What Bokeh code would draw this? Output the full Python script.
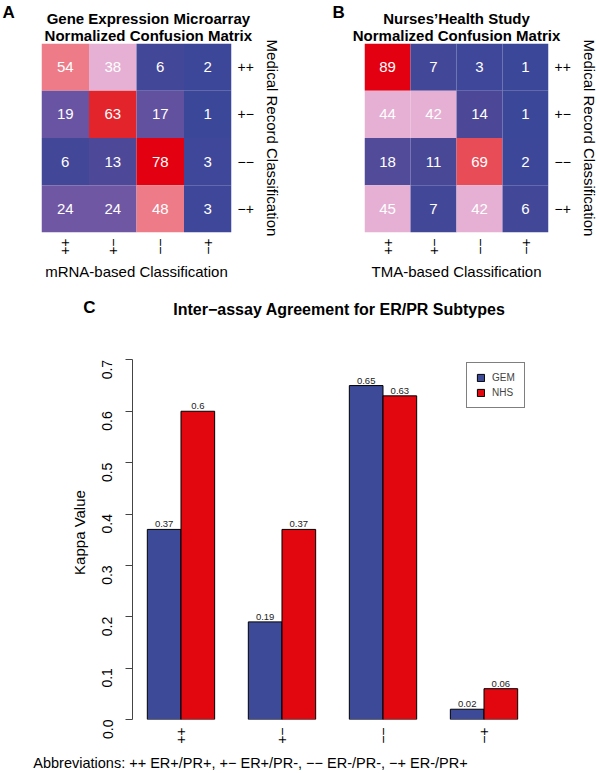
import numpy as np
from math import pi
from bokeh.plotting import figure
from bokeh.models import (FactorRange, Range1d, ColumnDataSource, LinearColorMapper,
                          Legend, LegendItem, FixedTicker, NumeralTickFormatter)
from bokeh.transform import dodge
from bokeh.layouts import column, row
from bokeh.embed import file_html
from bokeh.resources import INLINE
from bokeh.core.properties import value

# ---------------- data ----------------
classes = ["++", "+\u2212", "\u2212\u2212", "\u2212+"]
gem_matrix = [[54, 38, 6, 2],
              [19, 63, 17, 1],
              [6, 13, 78, 3],
              [24, 24, 48, 3]]
nhs_matrix = [[89, 7, 3, 1],
              [44, 42, 14, 1],
              [18, 11, 69, 2],
              [45, 7, 42, 6]]
subtypes = ["++", "+\u2212", "\u2212\u2212", "\u2212+"]
gem_kappa = [0.37, 0.19, 0.65, 0.02]
nhs_kappa = [0.6, 0.37, 0.63, 0.06]
y_ticks = [0.0, 0.1, 0.2, 0.3, 0.4, 0.5, 0.6, 0.7]

FONT = "Liberation Sans"

# ---------------- colour palette (blue -> purple -> pink -> red) ----------------
anchors = [(0.0, "#3A4799"), (0.16, "#4C4897"), (0.205, "#524B99"), (0.22, "#6753A2"),
           (0.31, "#7057A4"), (0.45, "#E5B0D3"), (0.52, "#E5B0D3"), (0.60, "#EE7B88"),
           (0.70, "#EE7B88"), (0.78, "#E84A55"), (0.81, "#E32228"), (1.0, "#E30010")]


def build_palette(n=256):
    fs = [a[0] for a in anchors]
    rgb = [tuple(int(a[1][i:i + 2], 16) for i in (1, 3, 5)) for a in anchors]
    t = np.linspace(0, 1, n)
    chans = [np.interp(t, fs, [c[k] for c in rgb]) for k in range(3)]
    return ["#%02X%02X%02X" % (int(round(r)), int(round(g)), int(round(b)))
            for r, g, b in zip(*chans)]


PALETTE = build_palette()


def add_text(p, x, y, txt, size, bold=False, align="left"):
    """Free text drawn as an unclipped (overlay-level) text glyph."""
    src = ColumnDataSource(dict(x=[x], y=[y], t=[txt]))
    p.text(x="x", y="y", text="t", source=src, level="overlay",
           text_font=value(FONT), text_font_size=size,
           text_font_style="bold" if bold else "normal",
           text_align=align, text_baseline="middle", text_color="black")


def make_heatmap(matrix, title1, title2, xlabel, letter, border_left, border_right,
                 letter_x, title_x):
    cols, rows, vals, labels = [], [], [], []
    for i, r in enumerate(classes):
        for j, c in enumerate(classes):
            rows.append(r)
            cols.append(c)
            vals.append(matrix[i][j])
            labels.append(str(matrix[i][j]))
    src = ColumnDataSource(dict(col=cols, row=rows, v=vals, label=labels))
    mapper = LinearColorMapper(palette=PALETTE, low=0, high=max(vals))

    p = figure(width=300, height=290,
               x_range=FactorRange(factors=classes),
               y_range=FactorRange(factors=list(reversed(classes))),
               y_axis_location="right", output_backend="svg", toolbar_location=None,
               min_border_left=border_left, min_border_right=border_right,
               min_border_top=43, min_border_bottom=58)
    p.rect(x="col", y="row", width=1, height=1, source=src,
           fill_color={"field": "v", "transform": mapper}, line_color=None)
    p.text(x="col", y="row", text="label", source=src, text_color="white",
           text_font=value(FONT), text_font_size="15px",
           text_align="center", text_baseline="middle")

    p.grid.visible = False
    p.outline_line_color = None
    for ax in (p.xaxis[0], p.yaxis[0]):
        ax.axis_line_color = None
        ax.major_tick_out = 0
        ax.major_tick_in = 0
        ax.minor_tick_out = 0
        ax.major_label_text_font = FONT
        ax.major_label_text_font_size = "14px"
        ax.major_label_text_color = "black"
        ax.axis_label_text_font = FONT
        ax.axis_label_text_font_size = "15px"
        ax.axis_label_text_font_style = "normal"
        ax.axis_label_text_color = "black"
    p.xaxis[0].major_label_orientation = pi / 2
    p.xaxis[0].major_label_standoff = 6
    p.xaxis[0].axis_label = xlabel
    p.xaxis[0].axis_label_standoff = 5
    p.yaxis[0].major_label_standoff = 6
    p.yaxis[0].axis_label = "Medical Record Classification"
    p.yaxis[0].axis_label_standoff = 7

    add_text(p, title_x, 4.53, title1, "15px", bold=True, align="center")
    add_text(p, title_x, 4.16, title2, "15px", bold=True, align="center")
    add_text(p, letter_x, 4.66, letter, "17px", bold=True)
    return p


pA = make_heatmap(gem_matrix, "Gene Expression Microarray", "Normalized Confusion Matrix",
                  "mRNA-based Classification", "A", 41, 69, -0.82, 2.25)
pB = make_heatmap(nhs_matrix, "Nurses\u2019Health Study", "Normalized Confusion Matrix",
                  "TMA-based Classification", "B", 64, 46, -0.695, 2.0)

# ---------------- bar chart ----------------
bsrc = ColumnDataSource(dict(cat=subtypes, gem=gem_kappa, nhs=nhs_kappa,
                             gem_label=[str(v) for v in gem_kappa],
                             nhs_label=[str(v) for v in nhs_kappa]))

pC = figure(width=600, height=482,
            x_range=FactorRange(factors=subtypes, factor_padding=0.5, range_padding=0.22,
                                range_padding_units="absolute"),
            y_range=Range1d(0, 0.728),
            output_backend="svg", toolbar_location=None,
            min_border_left=132, min_border_right=68, min_border_top=55, min_border_bottom=53)
pC.grid.visible = False
pC.outline_line_color = None

r_gem = pC.vbar(x=dodge("cat", -0.25, range=pC.x_range), top="gem", width=0.5, bottom=0,
                source=bsrc, fill_color="#3C4A98", line_color="black", line_width=1)
r_nhs = pC.vbar(x=dodge("cat", 0.25, range=pC.x_range), top="nhs", width=0.5, bottom=0,
                source=bsrc, fill_color="#E2060E", line_color="black", line_width=1)
for xo, col in ((-0.25, "gem"), (0.25, "nhs")):
    pC.text(x=dodge("cat", xo, range=pC.x_range), y=col, text=col + "_label", source=bsrc,
            text_align="center", text_baseline="bottom", y_offset=-2,
            text_font=value(FONT), text_font_size="9.5px", text_color="#222222")

xa = pC.xaxis[0]
xa.axis_line_color = None
xa.major_tick_out = 0
xa.major_tick_in = 0
xa.major_label_orientation = pi / 2
xa.major_label_standoff = 8
xa.major_label_text_font = FONT
xa.major_label_text_font_size = "14px"
xa.major_label_text_color = "black"

ya = pC.yaxis[0]
ya.ticker = FixedTicker(ticks=y_ticks)
ya.formatter = NumeralTickFormatter(format="0.0")
ya.bounds = (0, 0.7)
ya.minor_tick_out = 0
ya.minor_tick_in = 0
ya.major_tick_in = 0
ya.major_tick_out = 7
ya.axis_line_color = "#444444"
ya.major_tick_line_color = "#444444"
ya.major_label_orientation = pi / 2
ya.major_label_standoff = 18
ya.major_label_text_font = FONT
ya.major_label_text_font_size = "14px"
ya.major_label_text_color = "black"
ya.axis_label = "Kappa Value"
ya.axis_label_standoff = 7
ya.axis_label_text_font = FONT
ya.axis_label_text_font_size = "15px"
ya.axis_label_text_font_style = "normal"
ya.axis_label_text_color = "black"

legend = Legend(items=[LegendItem(label="GEM", renderers=[r_gem]),
                       LegendItem(label="NHS", renderers=[r_nhs])],
                location=(334, 311), glyph_width=9, glyph_height=9, label_height=9,
                label_text_font=FONT, label_text_font_size="10px", label_standoff=7,
                spacing=4, padding=9, margin=0, border_line_color="black",
                border_line_width=1, background_fill_alpha=1)
pC.add_layout(legend)

add_text(pC, 0.386, 0.799, "Inter\u2212assay Agreement for ER/PR Subtypes", "16px", bold=True)
add_text(pC, -0.951, 0.801, "C", "17px", bold=True)
add_text(pC, -1.693, -0.084,
         "Abbreviations: ++ ER+/PR+, +\u2212 ER+/PR-, \u2212\u2212 ER-/PR-, \u2212+ ER-/PR+", "14.5px")

layout = column(row(pA, pB, spacing=0), pC, spacing=0)
open("out.html", "w").write(file_html(layout, INLINE))
